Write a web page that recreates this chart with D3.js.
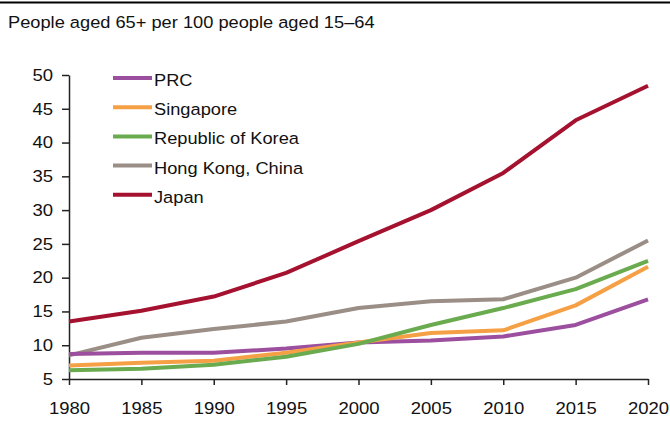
<!DOCTYPE html>
<html>
<head>
<meta charset="utf-8">
<script src="https://cdn.jsdelivr.net/npm/d3@7"></script>
<style>
  body { margin: 0; background: #fff; }
  svg { display: block; font-family: "Liberation Sans", Arial, sans-serif; }
  .axis path, .axis line { stroke: #222; stroke-width: 1.5; }
  .axis text { font-size: 16.5px; fill: #111; }
</style>
</head>
<body>
<svg></svg>
<script>
const width = 670;
const height = 425;

const years = [1980, 1985, 1990, 1995, 2000, 2005, 2010, 2015, 2020];
const seriesNames = ["PRC", "Singapore", "Republic of Korea", "Hong Kong, China", "Japan"];
const prc       = [8.7, 8.9, 8.9, 9.5, 10.4, 10.7, 11.3, 13.0, 16.8];
const singapore = [7.0, 7.4, 7.7, 8.9, 10.4, 11.8, 12.2, 15.9, 21.6];
const korea     = [6.3, 6.5, 7.1, 8.3, 10.2, 13.0, 15.5, 18.3, 22.5];
const hongKong  = [8.5, 11.1, 12.4, 13.5, 15.5, 16.5, 16.8, 20.0, 25.5];
const japan     = [13.5, 15.1, 17.2, 20.7, 25.4, 30.0, 35.5, 43.3, 48.4];
const yTicks = [5, 10, 15, 20, 25, 30, 35, 40, 45, 50];
const colors = ["#9b4f9e", "#f5a045", "#6aab4f", "#9a8e86", "#a5122f"];

const seriesValues = [prc, singapore, korea, hongKong, japan];

const svg = d3.select("svg")
  .attr("width", width)
  .attr("height", height);

// top rule + title
svg.append("line")
  .attr("x1", 0).attr("x2", width)
  .attr("y1", 2.5).attr("y2", 2.5)
  .attr("stroke", "#000")
  .attr("stroke-width", 2);

svg.append("text")
  .attr("x", 8)
  .attr("y", 28)
  .style("font-size", "16.3px")
  .attr("fill", "#111")
  .text("People aged 65+ per 100 people aged 15\u201364");

const xScale = d3.scaleLinear()
  .domain([1980, 2020])
  .range([69, 648]);

const yScale = d3.scaleLinear()
  .domain([5, 50])
  .range([379, 75]);

const xAxis = d3.axisBottom(xScale)
  .tickValues(years)
  .tickFormat(d3.format("d"))
  .tickSize(6)
  .tickSizeOuter(0)
  .tickPadding(17);

const yAxis = d3.axisLeft(yScale)
  .tickValues(yTicks)
  .tickSize(7)
  .tickSizeOuter(0)
  .tickPadding(9);

svg.append("g")
  .attr("class", "axis")
  .attr("transform", `translate(0,${yScale(5)})`)
  .call(xAxis);

svg.append("g")
  .attr("class", "axis")
  .attr("transform", `translate(${xScale(1980)},0)`)
  .call(yAxis);

const line = d3.line()
  .x((d, i) => xScale(years[i]))
  .y(d => yScale(d));

// draw order: Japan, HK, PRC, Singapore, Korea
const drawOrder = [4, 3, 0, 1, 2];
svg.append("g")
  .selectAll("path")
  .data(drawOrder)
  .enter()
  .append("path")
    .attr("d", i => line(seriesValues[i]))
    .attr("fill", "none")
    .attr("stroke", i => colors[i])
    .attr("stroke-width", 4)
    .attr("stroke-linejoin", "round");

// legend
const legend = svg.append("g")
  .selectAll("g")
  .data(seriesNames)
  .enter()
  .append("g")
    .attr("transform", (d, i) => `translate(113,${78 + i * 29.2})`);

legend.append("line")
  .attr("x1", 0).attr("x2", 39)
  .attr("stroke", (d, i) => colors[i])
  .attr("stroke-width", 4);

legend.append("text")
  .attr("x", 41)
  .attr("y", 8)
  .style("font-size", "16.3px")
  .attr("fill", "#111")
  .text(d => d);

// the original type is set a little wider than Liberation Sans; stretch it
svg.selectAll("text").each(function() {
  const len = this.getComputedTextLength();
  d3.select(this)
    .attr("textLength", len * 1.12)
    .attr("lengthAdjust", "spacingAndGlyphs");
});
</script>
</body>
</html>
